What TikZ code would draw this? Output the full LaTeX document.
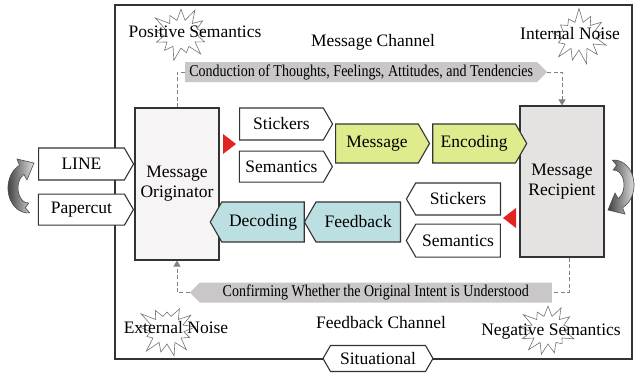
\documentclass[tikz,border=0pt]{standalone}
\usepackage{fontspec}
\setmainfont{Liberation Serif}
\newfontfamily\narrowserif{Liberation Serif}[FakeStretch=0.85]
\usetikzlibrary{arrows.meta,positioning,shapes.symbols}
\definecolor{origfill}{HTML}{F6F4F4}
\definecolor{recipfill}{HTML}{E5E2E2}
\definecolor{msgfill}{HTML}{E0EB8E}
\definecolor{fbfill}{HTML}{BCDFE2}
\definecolor{bannergray}{HTML}{C9C7C7}
\definecolor{cuered}{HTML}{E32222}

\begin{document}
\begin{tikzpicture}[x=1pt,y=-1pt,
  font=\fontsize{17.5}{20}\selectfont,
  tag/.style={signal,signal to=east,signal pointer angle=120,draw=black!80,line width=1.1pt,fill=white,minimum width=94pt,minimum height=32pt,inner sep=0pt},
  backtag/.style={tag,signal to=west},
  flow/.style={tag,fill=msgfill,minimum height=39pt},
  backflow/.style={backtag,fill=fbfill,minimum height=40pt},
  hub/.style={draw=black!80,line width=1.1pt,align=center,minimum width=84pt,minimum height=152pt,inner sep=0pt},
  banner/.style={signal,signal pointer angle=90,fill=bannergray,minimum width=362pt,minimum height=20pt,inner sep=0pt,font=\narrowserif\fontsize{16.5}{18}\selectfont},
  noise/.style={starburst,starburst points=13,starburst point height=15pt,draw=black!55,line width=0.6pt,minimum width=64pt,minimum height=58pt,inner sep=0pt},
  dashline/.style={draw=black!50,line width=1pt,dash pattern=on 4pt off 2.5pt},
  dasharrow/.style={-{Triangle[length=6pt,width=7pt]}},
  curvarrow/.pic={
    \shade[left color=black!75,right color=black!12,draw=black!70,line width=0.6pt]
      (1.7,24.9) arc[start angle=85,end angle=245,x radius=20,y radius=25]
      -- (-11,-29) -- (6,-25) -- (-1,-8) -- (-4.2,-13.6)
      arc[start angle=245,end angle=85,x radius=10,y radius=15]
      -- (-2.6,19.7) -- cycle;
  }
]
\useasboundingbox (0,0) rectangle (636,372);
\draw[draw=black!80,line width=1.1pt] (115,5) rectangle (632,359);

% noise stars and channel labels
\node[noise] (posstar) at (181,34) {};
\node[noise,random starburst=7] (intstar) at (579,36) {};
\node[noise,random starburst=23] (extstar) at (167,330) {};
\node[noise,random starburst=41] (negstar) at (548,330) {};
\node (pos) at (195,32) {Positive Semantics};
\node (int) at (570,34) {Internal Noise};
\node (ext) at (176,328) {External Noise};
\node (neg) at (551,332) {Negative Semantics};
\node (msgch) at (373,42) {Message Channel};
\node (fbch) at (381,323) {Feedback Channel};

% banners
\node[banner,signal to=east,anchor=west] (cond) at (185,72) {Conduction of Thoughts, Feelings, Attitudes, and Tendencies};
\node[banner,signal to=west,anchor=east] (conf) at (552,292.5) {Confirming Whether the Original Intent is Understood};

% originator and recipient
\node[hub,fill=origfill] (orig) at (177,184) {Message\\Originator};
\node[hub,fill=recipfill,minimum height=151pt] (recip) at (562,181.5) {Message\\Recipient};

\draw[dashline] (orig.north) |- (cond.west);
\draw[dashline,dasharrow] (cond.east) -| (recip.north);
\draw[dashline] ([xshift=7pt]recip.south) |- (conf.east);
\draw[dashline,dasharrow] (conf.west) -| (orig.south);

% message channel
\node[tag,minimum width=93pt,anchor=west] (stk1) at (239,124) {Stickers};
\node[tag,minimum width=93pt,minimum height=31pt,below=10pt of stk1] (sem1) {Semantics};
\node[flow,anchor=west] (msg) at (335,143.5) {Message};
\node[flow,right=2pt of msg] (enc) {Encoding};
\fill[cuered] (223,134) -- (236,144) -- (223,154) -- cycle;

% feedback channel
\node[backtag,anchor=east] (stk2) at (501,199) {Stickers};
\node[backtag,minimum height=33pt,below=8pt of stk2] (sem2) {Semantics};
\node[backflow,minimum width=96pt,anchor=east] (fb) at (401,222) {Feedback};
\node[backflow,left=-1pt of fb] (dec) {Decoding};
\fill[cuered] (516,208) -- (503,218) -- (516,228) -- cycle;

% media and situation
\node[tag,minimum width=95pt,anchor=west] (line) at (38,164) {LINE};
\node[tag,minimum width=95pt,minimum height=31pt,below=13pt of line] (pcut) {Papercut};
\node[tag,signal to=west and east,minimum width=110pt,minimum height=26pt] (sit) at (378,358.5) {Situational};

\pic at (28,188) {curvarrow};
\pic[rotate=180] at (614,185) {curvarrow};
\end{tikzpicture}
\end{document}
